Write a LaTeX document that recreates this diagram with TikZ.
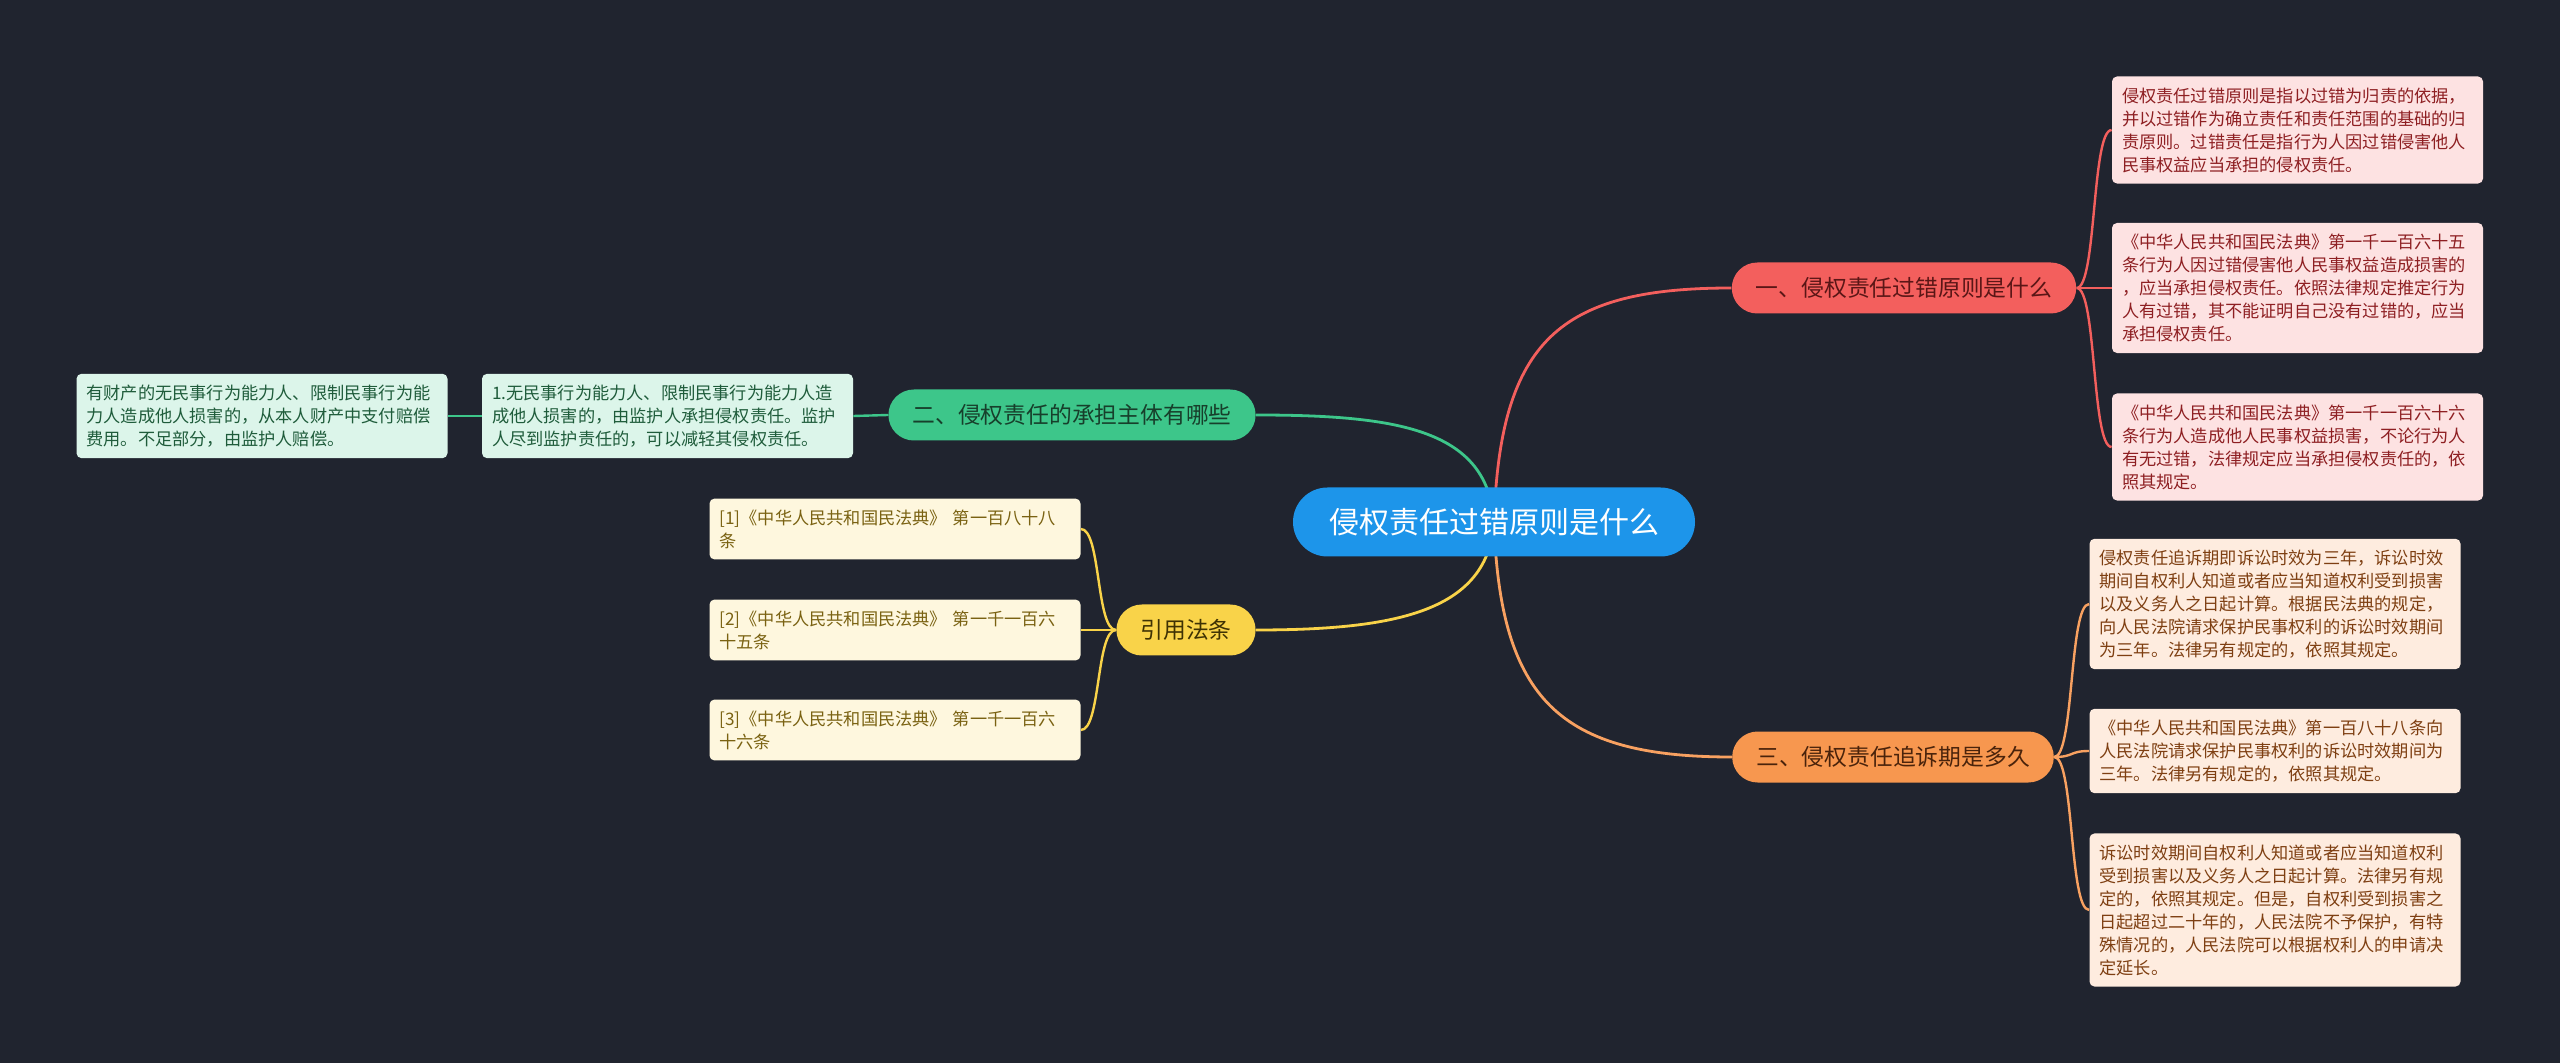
\documentclass[tikz,border=0pt]{standalone}
\usepackage{fontspec}
\setmainfont{Noto Sans CJK SC}
\usepackage{tikz}
\usetikzlibrary{positioning,calc,backgrounds}
\definecolor{night}     {HTML}{20242F}
\definecolor{sky}       {HTML}{1D95EA}
\definecolor{coral}     {HTML}{F35F5D}
\definecolor{jade}      {HTML}{3DC68A}
\definecolor{sun}       {HTML}{F9D349}
\definecolor{apricot}   {HTML}{F7974F}
\definecolor{coralink}  {HTML}{8E1F22}
\definecolor{jadeink}   {HTML}{1F5C3B}
\definecolor{sunink}    {HTML}{7A6212}
\definecolor{apricotink}{HTML}{7E3F12}
\definecolor{coraldark} {HTML}{5A1616}
\definecolor{jadedark}  {HTML}{173F2B}
\definecolor{sundark}   {HTML}{3F3204}
\definecolor{apricotdark}{HTML}{4A230B}
\colorlet{coralfill}{coral!18}
\colorlet{jadefill}{jade!18}
\colorlet{sunfill}{sun!18}
\colorlet{apricotfill}{apricot!18}
\tikzset{
  % --- nodes
  root/.style   = {rounded corners=17.25pt, fill=sky, text=white, minimum height=34.5pt,
                   inner xsep=18pt, font=\fontsize{15}{17}\selectfont},
  topic/.style  = {rounded corners=12.75pt, minimum height=25.5pt, inner xsep=12pt,
                   font=\fontsize{11.4}{13}\selectfont},
  leaf/.style   = {rounded corners=2.5pt, align=left, text width=175.5pt, inner xsep=5pt,
                   inner ysep=5.5pt, font=\fontsize{8.6}{11.5}\selectfont},
  redtopic/.style   = {topic, fill=coral, text=coraldark},
  greentopic/.style = {topic, fill=jade, text=jadedark},
  yellowtopic/.style= {topic, fill=sun, text=sundark},
  orangetopic/.style= {topic, fill=apricot, text=apricotdark},
  redleaf/.style    = {leaf, fill=coralfill, text=coralink},
  greenleaf/.style  = {leaf, fill=jadefill, text=jadeink},
  yellowleaf/.style = {leaf, fill=sunfill, text=sunink},
  orangeleaf/.style = {leaf, fill=apricotfill, text=apricotink},
  % --- edges
  er/.style = {line width=1.4pt, draw=coral},
  eg/.style = {line width=1.4pt, draw=jade},
  ey/.style = {line width=1.4pt, draw=sun},
  eo/.style = {line width=1.4pt, draw=apricot!90!white},
}

\begin{document}
\begin{tikzpicture}[x=0.5pt,y=-0.5pt]
  % --- centre and topics
  \node[root] (c) at (1494,522) {侵权责任过错原则是什么};
  \node[redtopic] (t1) at (1904,288) {一、侵权责任过错原则是什么};
  \node[greentopic] (t2) at (1072,415) {二、侵权责任的承担主体有哪些};
  \node[yellowtopic] (t3) at (1186,630) {引用法条};
  \node[orangetopic] (t4) at (1893,757) {三、侵权责任追诉期是多久};

  % --- leaves, right
  \node[redleaf] (r1) at (2297.5,130) {侵权责任过错原则是指以过错为归责的依据，\\并以过错作为确立责任和责任范围的基础的归\\责原则。过错责任是指行为人因过错侵害他人\\民事权益应当承担的侵权责任。};
  \node[redleaf] (r2) at (2297.5,288) {《中华人民共和国民法典》第一千一百六十五\\条行为人因过错侵害他人民事权益造成损害的\\，应当承担侵权责任。依照法律规定推定行为\\人有过错，其不能证明自己没有过错的，应当\\承担侵权责任。};
  \node[redleaf] (r3) at (2297.5,447) {《中华人民共和国民法典》第一千一百六十六\\条行为人造成他人民事权益损害，不论行为人\\有无过错，法律规定应当承担侵权责任的，依\\照其规定。};
  \node[orangeleaf] (o1) at (2275,604) {侵权责任追诉期即诉讼时效为三年，诉讼时效\\期间自权利人知道或者应当知道权利受到损害\\以及义务人之日起计算。根据民法典的规定，\\向人民法院请求保护民事权利的诉讼时效期间\\为三年。法律另有规定的，依照其规定。};
  \node[orangeleaf] (o2) at (2275,751) {《中华人民共和国民法典》第一百八十八条向\\人民法院请求保护民事权利的诉讼时效期间为\\三年。法律另有规定的，依照其规定。};
  \node[orangeleaf] (o3) at (2275,910) {诉讼时效期间自权利人知道或者应当知道权利\\受到损害以及义务人之日起计算。法律另有规\\定的，依照其规定。但是，自权利受到损害之\\日起超过二十年的，人民法院不予保护，有特\\殊情况的，人民法院可以根据权利人的申请决\\定延长。};

  % --- leaves, left
  \node[greenleaf] (g2) at (667.5,416) {1.无民事行为能力人、限制民事行为能力人造\\成他人损害的，由监护人承担侵权责任。监护\\人尽到监护责任的，可以减轻其侵权责任。};
  \node[greenleaf] (g1) at (262,416) {有财产的无民事行为能力人、限制民事行为能\\力人造成他人损害的，从本人财产中支付赔偿\\费用。不足部分，由监护人赔偿。};
  \node[yellowleaf] (y1) at (895,529) {[1]《中华人民共和国民法典》 第一百八十八\\条};
  \node[yellowleaf] (y2) at (895,630) {[2]《中华人民共和国民法典》 第一千一百六\\十五条};
  \node[yellowleaf] (y3) at (895,730) {[3]《中华人民共和国民法典》 第一千一百六\\十六条};

  \begin{scope}[on background layer]
    \fill[night] (0,0) rectangle (2560,1063);
    \draw[er] (c.center) .. controls (1500,340) and (1560,288) .. (t1.west);
    \draw[eg] (c.center) .. controls (1488,430) and (1400,415) .. (t2.east);
    \draw[ey] (c.center) .. controls (1488,610) and (1400,630) .. (t3.east);
    \draw[eo] (c.center) .. controls (1500,700) and (1560,757) .. (t4.west);
  \end{scope}

  \foreach \l in {r1,r2,r3}
    \draw[er,line width=1.2pt] (t1.east) .. controls +(20,0) and +(-20,0) .. (\l.west);
  \foreach \l in {o1,o2,o3}
    \draw[eo,line width=1.2pt] (t4.east) .. controls +(20,0) and +(-20,0) .. (\l.west);
  \foreach \l in {y1,y2,y3}
    \draw[ey,line width=1.2pt] (t3.west) .. controls +(-20,0) and +(20,0) .. (\l.east);
  \draw[eg,line width=1.2pt] (t2.west) -- (g2.east);
  \draw[eg,line width=1.2pt] (g2.west) -- (g1.east);
\end{tikzpicture}
\end{document}
